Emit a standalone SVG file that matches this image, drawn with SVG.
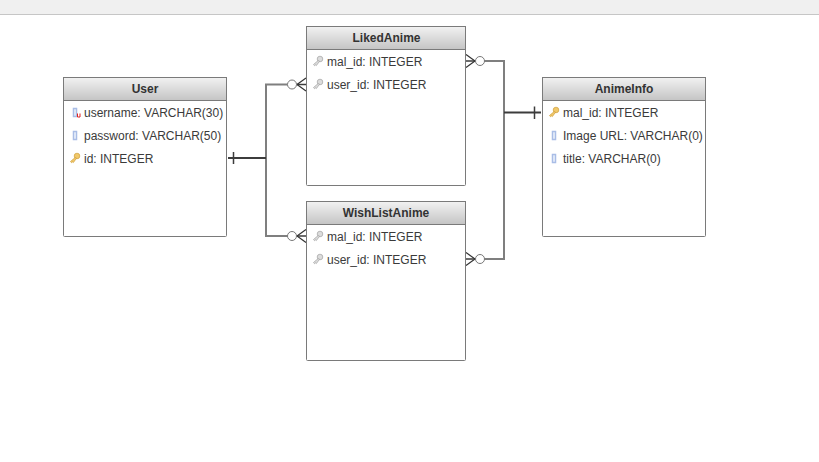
<svg xmlns="http://www.w3.org/2000/svg" width="819" height="462" viewBox="0 0 819 462">
<style>
text{font-family:"Liberation Sans",Arial,sans-serif;font-size:12px;fill:#3a3a3a}
.h{font-weight:bold;text-anchor:middle;fill:#333}
.box{fill:#fff;stroke:#7a7a7a;stroke-width:1}
.hd{fill:url(#g);stroke:#7a7a7a;stroke-width:1}
.line{fill:none;stroke:#7f7f7f;stroke-width:2}
.dark{fill:none;stroke:#3c3c3c;stroke-width:2}
.tick{fill:none;stroke:#3c3c3c;stroke-width:1.500}
.thin{fill:none;stroke:#333;stroke-width:1.200}
.c{fill:#fff;stroke:#777;stroke-width:1}
.col{fill:#eef3fc;stroke:#a9bde6;stroke-width:1.500}
.key{fill:#f1c96a;stroke:#cf9d3c;stroke-width:.7}
.fk{fill:#dcdcdc;stroke:#a2a2a2;stroke-width:.7}
</style>
<defs>
<linearGradient id="g" x1="0" y1="0" x2="0" y2="1"><stop offset="0" stop-color="#f2f2f2"/><stop offset="1" stop-color="#c4c4c4"/></linearGradient>
<g id="k"><circle cx="7" cy="-2.500" r="2.800"/><path d="M5.200-1 L0.500 3 L1.500 4.200 L2.600 3.400 L3.400 4 L6.600-.3Z"/></g>
</defs>
<rect x="0" y="0" width="819" height="14" fill="#f0f0f0"/>
<rect x="0" y="14" width="819" height="1" fill="#c6c6c6"/>

<g id="connectors">
<path class="line" d="M266 158V84.500H288M266 158V236H288"/>
<path class="line" d="M484 61H504V259H484"/>
<path class="dark" d="M228 158H266M504 112.500H541"/>
<path class="tick" d="M233.500 152V164M534.500 106.500V119"/>
<path class="tick" d="M297 84.500H306M297 236H306M466 61H475M466 259H475"/>
<path class="thin" d="M306 78L297 84.500L306 91M306 229.500L297 236L306 242.500M466 54.500L475 61L466 67.500M466 252.500L475 259L466 265.500"/>
<circle class="c" cx="292" cy="84.500" r="4.500"/>
<circle class="c" cx="292" cy="236" r="4.500"/>
<circle class="c" cx="480" cy="61" r="4.500"/>
<circle class="c" cx="480" cy="259" r="4.500"/>
</g>

<g id="User">
<rect class="box" x="63.500" y="77.500" width="163" height="159" rx="1"/>
<rect class="hd" x="63.500" y="77.500" width="163" height="23"/>
<text class="h" x="145" y="93">User</text>
<rect class="col" x="73.500" y="108.500" width="3" height="8"/>
<path d="M77.500 113.500v3.500h2.500v-3.500" fill="none" stroke="#e02020" stroke-width="1"/>
<text x="84" y="117">username: VARCHAR(30)</text>
<rect class="col" x="73.500" y="131.500" width="3" height="8"/>
<text x="84" y="140">password: VARCHAR(50)</text>
<use href="#k" class="key" x="70" y="158.500"/>
<text x="84" y="163">id: INTEGER</text>
</g>

<g id="LikedAnime">
<rect class="box" x="306.500" y="26.500" width="159" height="159" rx="1"/>
<rect class="hd" x="306.500" y="26.500" width="159" height="23"/>
<text class="h" x="386.500" y="42">LikedAnime</text>
<use href="#k" class="fk" x="313" y="61.500"/>
<text x="327" y="66">mal_id: INTEGER</text>
<use href="#k" class="fk" x="313" y="84.500"/>
<text x="327" y="89">user_id: INTEGER</text>
</g>

<g id="WishListAnime">
<rect class="box" x="306.500" y="201.500" width="159" height="159" rx="1"/>
<rect class="hd" x="306.500" y="201.500" width="159" height="23"/>
<text class="h" x="386" y="217">WishListAnime</text>
<use href="#k" class="fk" x="313" y="236.500"/>
<text x="327" y="241">mal_id: INTEGER</text>
<use href="#k" class="fk" x="313" y="259.500"/>
<text x="327" y="264">user_id: INTEGER</text>
</g>

<g id="AnimeInfo">
<rect class="box" x="542.500" y="77.500" width="163" height="159" rx="1"/>
<rect class="hd" x="542.500" y="77.500" width="163" height="23"/>
<text class="h" x="624" y="93">AnimeInfo</text>
<use href="#k" class="key" x="549" y="112.500"/>
<text x="563" y="117">mal_id: INTEGER</text>
<rect class="col" x="552.500" y="131.500" width="3" height="8"/>
<text x="563" y="140">Image URL: VARCHAR(0)</text>
<rect class="col" x="552.500" y="154.500" width="3" height="8"/>
<text x="563" y="163">title: VARCHAR(0)</text>
</g>
</svg>
